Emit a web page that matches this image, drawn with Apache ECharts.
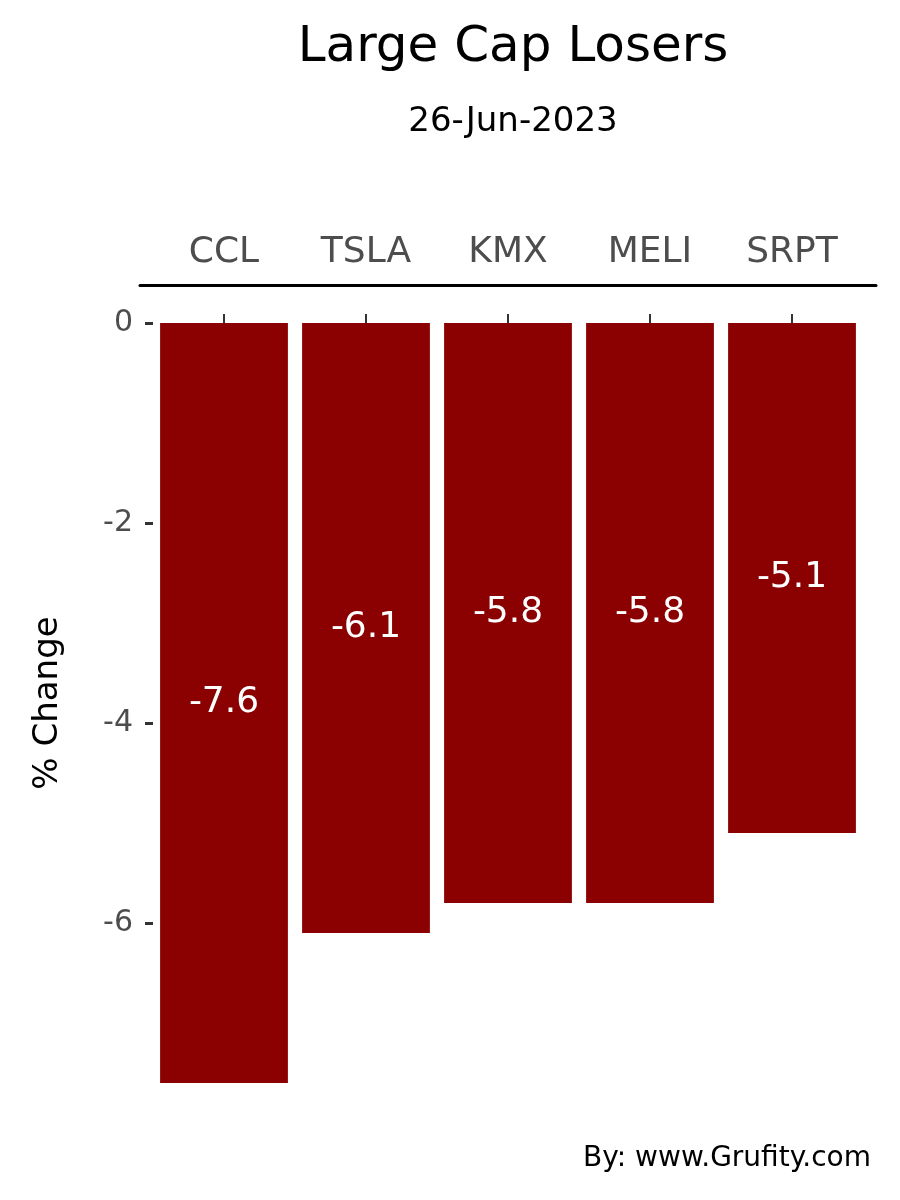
<!DOCTYPE html>
<html><head><meta charset="utf-8">
<script src="https://cdn.jsdelivr.net/npm/echarts@6/dist/echarts.min.js"></script>
<style>html,body{margin:0;padding:0;background:#fff}#c{width:900px;height:1200px}</style>
</head><body><div id="c"></div>
<script>
const tickers = ["CCL", "TSLA", "KMX", "MELI", "SRPT"];
const changes = [-7.6, -6.1, -5.8, -5.8, -5.1];
const yTicks = [0, -2, -4, -6];

const chart = echarts.init(document.getElementById("c"));
const font = "DejaVu Sans";
chart.setOption({
  textStyle: { fontFamily: font },
  title: [
    { text: "Large Cap Losers", left: 508, top: 18, textAlign: "center",
      textStyle: { fontSize: 50, fontWeight: "normal", color: "#000", fontFamily: font } },
    { text: "26-Jun-2023", left: 508, top: 100, textAlign: "center",
      textStyle: { fontSize: 34, fontWeight: "normal", color: "#000", fontFamily: font } },
    { text: "By: www.Grufity.com", right: 24, top: 1140,
      textStyle: { fontSize: 28, fontWeight: "normal", color: "#000", fontFamily: font } }
  ],
  grid: [
    { left: 153, right: 37, top: 285, bottom: 79 },
    { left: 140, right: 24, top: 285, bottom: 79 }
  ],
  xAxis: [
    { type: "category", data: tickers, position: "top", gridIndex: 0,
      axisLine: { show: false },
      axisTick: { show: true, alignWithLabel: true, length: 9, lineStyle: { color: "#333", width: 2 } },
      axisLabel: { fontSize: 36, color: "#4d4d4d", margin: 14, fontFamily: font } },
    { type: "value", gridIndex: 1, position: "top", min: 0, max: 1,
      axisLine: { show: true, onZero: false, lineStyle: { color: "#000", width: 3 } },
      axisTick: { show: false }, axisLabel: { show: false }, splitLine: { show: false } }
  ],
  yAxis: [
    { type: "value", gridIndex: 0, min: -7.98, max: 0.38,
      name: "% Change", nameLocation: "middle", nameGap: 88, nameRotate: 90,
      nameTextStyle: { fontSize: 34, color: "#000", fontFamily: font },
      axisLine: { show: false },
      axisTick: { show: true, length: 8, customValues: yTicks, lineStyle: { color: "#333", width: 3 } },
      axisLabel: { fontSize: 30, color: "#4d4d4d", margin: 20, customValues: yTicks, fontFamily: font },
      splitLine: { show: false } },
    { type: "value", gridIndex: 1, show: false, min: 0, max: 1 }
  ],
  series: [{
    type: "bar", data: changes, xAxisIndex: 0, yAxisIndex: 0,
    barCategoryGap: "10%",
    itemStyle: { color: "#8B0000" },
    label: { show: true, position: "inside", color: "#fff", fontSize: 36, fontFamily: font,
      formatter: p => p.value.toFixed(1) }
  }]
});
</script></body></html>
